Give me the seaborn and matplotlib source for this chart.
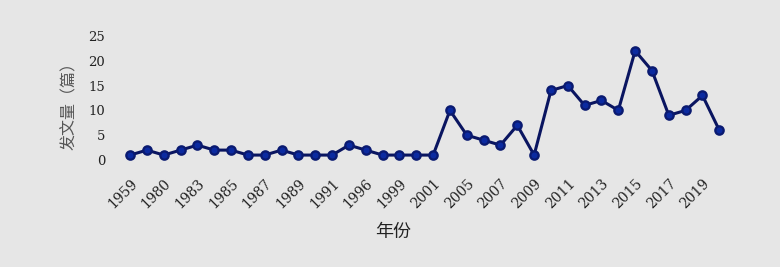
import matplotlib
matplotlib.use("Agg")
import matplotlib.pyplot as plt
import seaborn as sns
import pandas as pd

years = ["1959", "1979", "1980", "1982", "1983", "1984", "1985", "1986", "1987",
         "1988", "1989", "1990", "1991", "1995", "1996", "1998", "1999", "2000",
         "2001", "2004", "2005", "2006", "2007", "2008", "2009", "2010", "2011",
         "2012", "2013", "2014", "2015", "2016", "2017", "2018", "2019", "2020"]
counts = [1, 2, 1, 2, 3, 2, 2, 1, 1,
          2, 1, 1, 1, 3, 2, 1, 1, 1,
          1, 10, 5, 4, 3, 7, 1, 14, 15,
          11, 12, 10, 22, 18, 9, 10, 13, 6]
y_ticks = [0, 5, 10, 15, 20, 25]

sns.set_theme(style="dark", rc={
    "axes.facecolor": "#e6e6e6",
    "figure.facecolor": "#e6e6e6",
    "axes.edgecolor": "#e6e6e6",
})
plt.rcParams["font.family"] = ["DejaVu Serif", "Noto Sans CJK SC"]

df = pd.DataFrame({"年份": years, "发文量": counts})

fig = plt.figure(figsize=(7.8, 2.67), dpi=100)
ax = fig.add_axes([0.156, 0.382, 0.777, 0.493])

sns.pointplot(data=df, x="年份", y="发文量", order=years, ax=ax,
              color="#0b1f8a", markers="o", linestyles="-",
              markersize=6, linewidth=2.2, errorbar=None)
for line in ax.lines:
    line.set_color("#0a1560")
    line.set_markerfacecolor("#0b2aa0")
    line.set_markeredgecolor("#0a1a70")

for spine in ax.spines.values():
    spine.set_visible(False)
ax.grid(False)

ax.set_xlim(-0.5, len(years) - 0.5)
ax.set_ylim(-1, 25.5)
ax.set_yticks(y_ticks)
ax.set_yticklabels([str(t) for t in y_ticks], fontsize=9.5, color="#222222")

idx = list(range(0, len(years), 2))
ax.set_xticks(idx)
ax.set_xticklabels([years[i] for i in idx], fontsize=10, color="#222222",
                   rotation=45, ha="right", rotation_mode="anchor")
ax.tick_params(axis="y", length=0, pad=12)
ax.tick_params(axis="x", length=0, pad=8)

ax.set_xlabel("年份", fontsize=13, color="#222222",
              family=["Noto Sans CJK SC", "DejaVu Sans"])
ax.xaxis.set_label_coords(0.448, -0.44)
ax.set_ylabel("发文量（篇）", fontsize=11.5, color="#555555",
              family=["Noto Sans CJK SC", "DejaVu Sans"])
ax.yaxis.set_label_coords(-0.072, 0.479)

fig.savefig("out.png", dpi=100, facecolor=fig.get_facecolor())
